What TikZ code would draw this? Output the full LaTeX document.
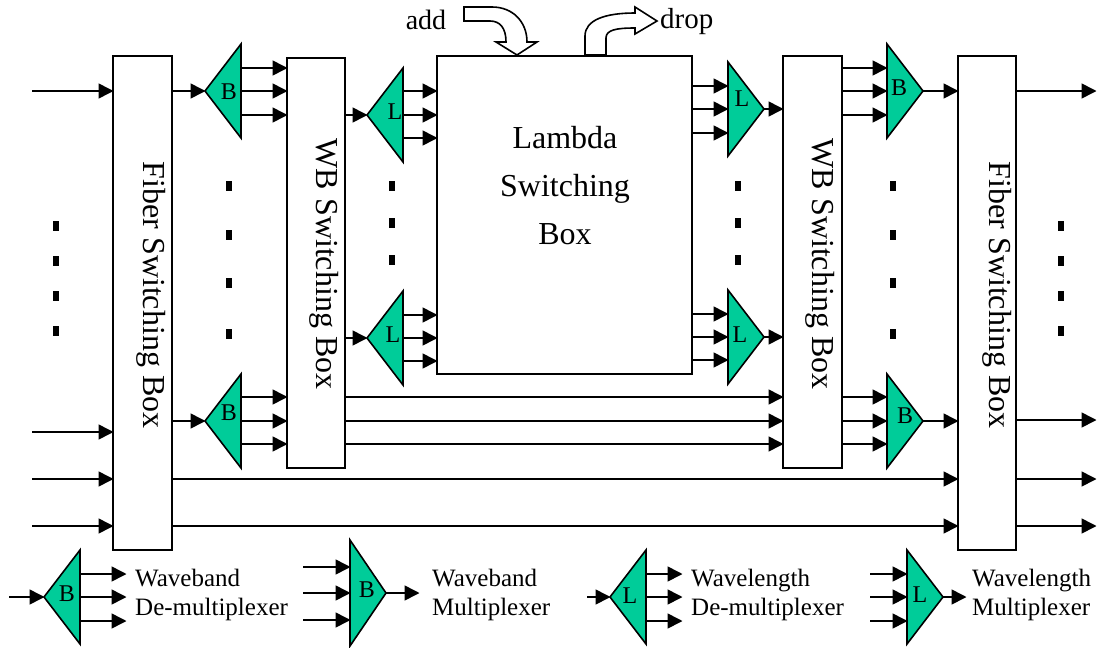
\documentclass[tikz,border=0pt]{standalone}
\usepackage{fontspec}
\setmainfont{Liberation Serif}
\usetikzlibrary{arrows.meta,shapes.geometric}
\definecolor{muxgreen}{RGB}{0,204,153}
\tikzset{
  arr/.style={-{Triangle[length=15pt,width=15pt]},line width=1.6pt,shorten >=-0.5pt},
  box/.style={draw,line width=1.6pt,fill=white,inner sep=0pt,outer sep=0pt,anchor=north west},
  mux/.style={draw,line width=1.6pt,fill=muxgreen,isosceles triangle,isosceles triangle stretches,
    minimum width=94pt,minimum height=36pt,inner sep=0pt,outer sep=0pt,anchor=apex},
  demux/.style={mux,shape border rotate=180},
  tag/.style={inner sep=0pt,font=\fontsize{24}{24}\selectfont},
  boxtext/.style={inner sep=0pt,font=\fontsize{32}{32}\selectfont},
  lamtext/.style={boxtext,anchor=base},
  legtext/.style={inner sep=0pt,anchor=north west,align=left,font=\fontsize{25}{29}\selectfont},
  dot/.style={fill=black,inner sep=0pt,minimum width=6pt,minimum height=10pt},
  bigarrow/.style={draw,line width=1.6pt,fill=white,line join=miter}
}
\begin{document}
\begin{tikzpicture}[x=1pt,y=-1pt]
  \useasboundingbox (0,0) rectangle (1098,648);
  % switching boxes
  \node[box,minimum width=59pt,minimum height=494pt](fsl) at (113,56) {};
  \node[box,minimum width=58pt,minimum height=410pt](wbl) at (287,58) {};
  \node[box,minimum width=255pt,minimum height=318pt](lam) at (437,56) {};
  \node[box,minimum width=59pt,minimum height=412pt](wbr) at (783,56) {};
  \node[box,minimum width=58pt,minimum height=494pt](fsr) at (958,56) {};
  \node[boxtext,rotate=-90](fsltext) at (151,295) {Fiber Switching Box};
  \node[boxtext,rotate=-90](wbltext) at (324,264) {WB Switching Box};
  \node[lamtext](lamtext1) at (565,148) {Lambda};
  \node[lamtext](lamtext2) at (565,196) {Switching};
  \node[lamtext](lamtext3) at (565,244) {Box};
  \node[boxtext,rotate=-90](wbrtext) at (820,264) {WB Switching Box};
  \node[boxtext,rotate=-90](fsrtext) at (997,295) {Fiber Switching Box};
  % multiplexers
  \node[demux](bdl1) at (205,91) {};
  \node[demux](bdl2) at (205,421) {};
  \node[demux](ldl1) at (367,115) {};
  \node[demux](ldl2) at (367,338) {};
  \node[mux](lmr1) at (764,109) {};
  \node[mux](lmr2) at (764,337) {};
  \node[mux](bmr1) at (923,91) {};
  \node[mux](bmr2) at (923,421) {};
  \node[tag](bdl1tag) at (229,92) {B};
  \node[tag](bdl2tag) at (229,413) {B};
  \node[tag](ldl1tag) at (395,112) {L};
  \node[tag](ldl2tag) at (393,335) {L};
  \node[tag](lmr1tag) at (742,99) {L};
  \node[tag](lmr2tag) at (740,335) {L};
  \node[tag](bmr1tag) at (899,88) {B};
  \node[tag](bmr2tag) at (905,416) {B};
  % inputs and outputs of the whole node
  \coordinate(inl) at (32,0);
  \coordinate(outr) at (1096,0);
  \foreach \y in {91,432,479,526}
    \draw[arr](inl |- 0,\y) -- (fsl.west |- 0,\y);
  \foreach \y in {91,420,479,526}
    \draw[arr](fsr.east |- 0,\y) -- (outr |- 0,\y);
  % links between stages
  \draw[arr](fsl.east |- bdl1.apex) -- (bdl1.apex);
  \draw[arr](fsl.east |- bdl2.apex) -- (bdl2.apex);
  \draw[arr](wbl.east |- ldl1.apex) -- (ldl1.apex);
  \draw[arr](wbl.east |- ldl2.apex) -- (ldl2.apex);
  \draw[arr](lmr1.apex) -- (wbr.west |- lmr1.apex);
  \draw[arr](lmr2.apex) -- (wbr.west |- lmr2.apex);
  \draw[arr](bmr1.apex) -- (fsr.west |- bmr1.apex);
  \draw[arr](bmr2.apex) -- (fsr.west |- bmr2.apex);
  \foreach \y in {68,91,115}
    \draw[arr](bdl1.lower side |- 0,\y) -- (wbl.west |- 0,\y);
  \foreach \y in {397,421,444}
    \draw[arr](bdl2.lower side |- 0,\y) -- (wbl.west |- 0,\y);
  \foreach \y in {91,115,138}
    \draw[arr](ldl1.lower side |- 0,\y) -- (lam.west |- 0,\y);
  \foreach \y in {315,338,361}
    \draw[arr](ldl2.lower side |- 0,\y) -- (lam.west |- 0,\y);
  \foreach \y in {86,109,133}
    \draw[arr](lam.east |- 0,\y) -- (lmr1.lower side |- 0,\y);
  \foreach \y in {314,337,360}
    \draw[arr](lam.east |- 0,\y) -- (lmr2.lower side |- 0,\y);
  \foreach \y in {68,91,115}
    \draw[arr](wbr.east |- 0,\y) -- (bmr1.lower side |- 0,\y);
  \foreach \y in {397,421,444}
    \draw[arr](wbr.east |- 0,\y) -- (bmr2.lower side |- 0,\y);
  \foreach \y in {397,421,444}
    \draw[arr](wbl.east |- 0,\y) -- (wbr.west |- 0,\y);
  \foreach \y in {479,526}
    \draw[arr](fsl.east |- 0,\y) -- (fsr.west |- 0,\y);
  % dots
  \foreach \y in {226,261,296,331} {
    \node[dot] at (56,\y) {};
    \node[dot] at (1061,\y) {};
  }
  \foreach \y in {186,235,283,334} {
    \node[dot] at (229,\y) {};
    \node[dot] at (893,\y) {};
  }
  \foreach \y in {186,223,260} {
    \node[dot] at (392,\y) {};
    \node[dot] at (738,\y) {};
  }
  % add and drop
  \draw[bigarrow](464,7) -- (492,7) .. controls (513,7) and (527,22) .. (527,42) -- (537,42)
    -- (517,55) -- (496,42) -- (506,42) .. controls (506,28) and (500,21) .. (490,21) -- (464,21) -- cycle;
  \draw[bigarrow](585,55) -- (585,36) .. controls (585,20) and (605,13) .. (635,13) -- (635,7)
    -- (657,21) -- (635,34) -- (635,28) .. controls (616,28) and (606,30) .. (606,38) -- (606,55) -- cycle;
  \node[inner sep=0pt,font=\fontsize{28}{28}\selectfont](addtext) at (426,20) {add};
  \node[inner sep=0pt,font=\fontsize{29}{29}\selectfont,anchor=west](droptext) at (660,22) {drop};
  % legend
  \coordinate(leg1in) at (9,597);
  \coordinate(leg1out) at (126,0);
  \node[demux](leg1) at (44,597) {};
  \node[tag](leg1tag) at (67,594) {B};
  \draw[arr](leg1in) -- (leg1.apex);
  \foreach \y in {574,597,621}
    \draw[arr](leg1.lower side |- 0,\y) -- (leg1out |- 0,\y);
  \node[legtext](leg1text) at (135,569) {Waveband\\De-multiplexer};
  \coordinate(leg2in) at (303,0);
  \coordinate(leg2out) at (419,593);
  \node[mux,minimum width=106pt](leg2) at (386,593) {};
  \node[tag](leg2tag) at (367,590) {B};
  \foreach \y in {567,593,620}
    \draw[arr](leg2in |- 0,\y) -- (leg2.lower side |- 0,\y);
  \draw[arr](leg2.apex) -- (leg2out);
  \node[legtext](leg2text) at (432,569) {Waveband\\Multiplexer};
  \coordinate(leg3in) at (587,597);
  \coordinate(leg3out) at (682,0);
  \node[demux](leg3) at (610,597) {};
  \node[tag](leg3tag) at (630,596) {L};
  \draw[arr](leg3in) -- (leg3.apex);
  \foreach \y in {574,597,621}
    \draw[arr](leg3.lower side |- 0,\y) -- (leg3out |- 0,\y);
  \node[legtext](leg3text) at (691,569) {Wavelength\\De-multiplexer};
  \coordinate(leg4in) at (870,0);
  \coordinate(leg4out) at (966,597);
  \node[mux](leg4) at (943,597) {};
  \node[tag](leg4tag) at (920,595) {L};
  \foreach \y in {574,597,621}
    \draw[arr](leg4in |- 0,\y) -- (leg4.lower side |- 0,\y);
  \draw[arr](leg4.apex) -- (leg4out);
  \node[legtext](leg4text) at (972,569) {Wavelength\\Multiplexer};
\end{tikzpicture}
\end{document}
